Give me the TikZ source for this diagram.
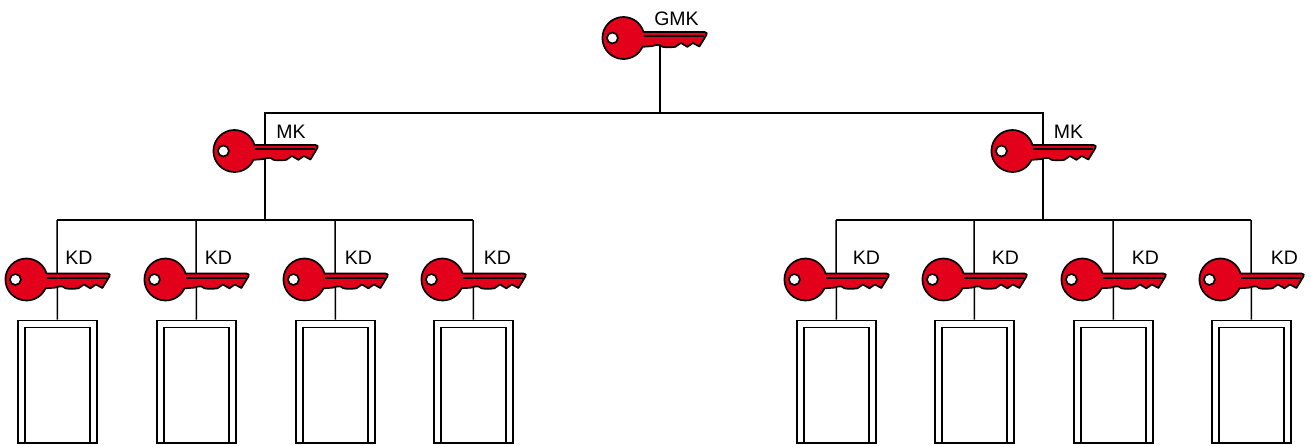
\documentclass[tikz,border=0pt]{standalone}
\usepackage{fontspec}
\setmainfont{Liberation Sans}
\definecolor{keyred}{HTML}{E2001A}
\tikzset{
  wire/.style={draw=black,line width=1.5pt},
  doorouter/.style={draw=black,line width=1.6pt,rectangle,inner sep=0pt,minimum width=79pt,minimum height=122.5pt,anchor=north},
  doorinner/.style={draw=black,line width=1.6pt,rectangle,inner sep=0pt,minimum width=65pt,minimum height=116pt,anchor=north},
  keylabel/.style={inner sep=0pt,font=\fontsize{19.5pt}{20pt}\selectfont,text=black},
  keyshape/.pic={
    \path[fill=keyred,draw=black,line width=1.7pt,line join=round]
      (20.13,-6) -- (81,-6) .. controls (83.5,-6) and (84,-4.5) .. (83,-3)
      -- (76,8.5) -- (69.5,5) -- (64,8.8) -- (57.5,5) -- (52,8.8)
      .. controls (47,9.5) and (43,9.5) .. (39,8.8)
      .. controls (37,6.5) and (35,6.5) .. (33,7)
      .. controls (30,8) and (27,8.5) .. (24,8.5)
      -- (19.07,8.8)
      .. controls (15.7,16.4) and (8.19,21) .. (0,21)
      .. controls (-11.6,21) and (-21,11.6) .. (-21,0)
      .. controls (-21,-11.6) and (-11.6,-21) .. (0,-21)
      .. controls (9.31,-21) and (17.47,-14.92) .. (20.13,-6) -- cycle;
    \path[draw=black,line width=2pt] (20.5,-1.7) -- (81,-1.7);
    \path[fill=white,draw=black,line width=1.7pt] (-11,0) circle[radius=5.5];
  }
}
\begin{document}
\begin{tikzpicture}[x=1pt,y=-1pt]
\useasboundingbox (0,0) rectangle (1311,445);
\coordinate (gmk) at (660,38);
\coordinate (topbus) at (660,113);
\coordinate (mkL) at (265,113);
\coordinate (mkR) at (1043,113);
\coordinate (mkLs) at (265,220);
\coordinate (mkRs) at (1043,220);
\draw[wire] (gmk) -- (topbus);
\draw[wire] (mkLs) -- (mkL) -- (mkR) -- (mkRs);
\coordinate (busLa) at (57,220);
\coordinate (busLb) at (473,220);
\coordinate (busRa) at (836,220);
\coordinate (busRb) at (1251,220);
\draw[wire] (busLa) -- (busLb);
\draw[wire] (busRa) -- (busRb);
\foreach \nm/\x/\lx in {a/57/79,b/196/218.5,c/335/358.5,d/473/497.5,e/836/866.5,f/974/1005.5,g/1113/1145.5,h/1251/1284.5}{
  \coordinate (t\nm) at (\x,220);
  \node[doorouter] (door\nm) at (\x+.4,319.5) {};
  \node[doorinner] (inner\nm) at (\x+.4,326.5) {};
  \draw[wire] (t\nm) -- (door\nm.north);
  \pic at (\x-30.6,279.5) {keyshape};
  \node[keylabel] (label\nm) at (\lx,258) {KD};
}
\pic at (623.4,38) {keyshape};
\node[keylabel] (labelgmk) at (676.5,19) {GMK};
\pic at (234.4,151) {keyshape};
\node[keylabel] (labelmkL) at (291,132) {MK};
\pic at (1012.4,151) {keyshape};
\node[keylabel] (labelmkR) at (1068.5,132) {MK};
\end{tikzpicture}
\end{document}
